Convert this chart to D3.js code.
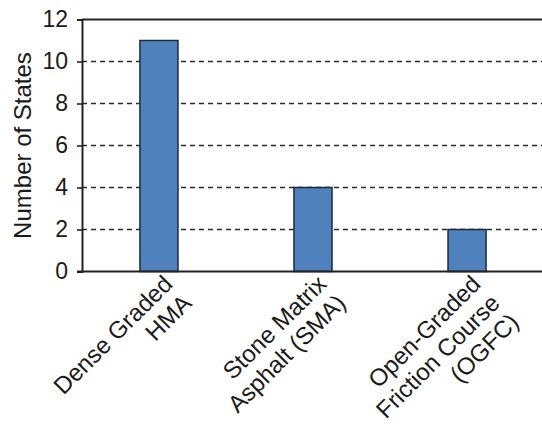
<!DOCTYPE html>
<html>
<head>
<meta charset="utf-8">
<script src="https://cdn.jsdelivr.net/npm/d3@7"></script>
<style>
  html, body { margin: 0; padding: 0; background: #fff; }
  svg { display: block; }
  text { font-family: "Liberation Sans", Arial, sans-serif; fill: #1a1a1a; }
</style>
</head>
<body>
<svg id="chart" width="542" height="426"></svg>
<script>
// Mix types and the number of states using each
const categories = [
  ["Dense Graded", "HMA"],
  ["Stone Matrix", "Asphalt (SMA)"],
  ["Open-Graded", "Friction Course", "(OGFC)"]
];
const states = [11, 4, 2];
const yTicks = [0, 2, 4, 6, 8, 10, 12];
const yLabel = "Number of States";

const svg = d3.select("#chart");
const margin = { left: 82, right: -2, top: 19.5, bottom: 154.5 };
const W = 542, H = 426;

const x = d3.scaleBand()
  .domain(categories.map((d, i) => i))
  .range([margin.left, W - margin.right])
  .paddingInner(0.753)
  .paddingOuter(0.376);

const y = d3.scaleLinear()
  .domain([0, 12])
  .range([H - margin.bottom, margin.top]);

// dashed horizontal gridlines
svg.append("g")
  .selectAll("line")
  .data(yTicks.filter(t => t > 0 && t < 12))
  .join("line")
  .attr("x1", margin.left)
  .attr("x2", W)
  .attr("y1", d => y(d))
  .attr("y2", d => y(d))
  .attr("stroke", "#2a2a2a")
  .attr("stroke-width", 1.6)
  .attr("stroke-dasharray", "5,4");

// top border of the plot area
svg.append("line")
  .attr("x1", margin.left).attr("x2", W)
  .attr("y1", y(12)).attr("y2", y(12))
  .attr("stroke", "#222").attr("stroke-width", 2);

// bars
svg.append("g")
  .selectAll("rect")
  .data(states)
  .join("rect")
  .attr("x", (d, i) => x(i))
  .attr("width", x.bandwidth())
  .attr("y", d => y(d))
  .attr("height", d => y(0) - y(d))
  .attr("fill", "#4f81bd")
  .attr("stroke", "#1c2a40")
  .attr("stroke-width", 1.5);

// y axis
const yAxis = svg.append("g")
  .attr("transform", `translate(${margin.left},0)`)
  .call(d3.axisLeft(y).tickValues(yTicks).tickSize(5).tickPadding(9).tickFormat(d3.format("d")));
yAxis.select(".domain").attr("stroke", "#222").attr("stroke-width", 2);
yAxis.selectAll(".tick line").attr("stroke", "#222").attr("stroke-width", 1.6);
yAxis.selectAll(".tick text")
  .style("font-family", "'Liberation Sans', Arial, sans-serif")
  .style("font-size", "23px")
  .attr("fill", "#1a1a1a");

// x baseline
svg.append("line")
  .attr("x1", margin.left - 5).attr("x2", W)
  .attr("y1", y(0)).attr("y2", y(0))
  .attr("stroke", "#222").attr("stroke-width", 2);

// rotated category labels, right-aligned lines
const labels = svg.append("g")
  .selectAll("g")
  .data(categories)
  .join("g")
  .attr("transform", (d, i) => `translate(${x(i) + x.bandwidth() / 2 + 15},${y(0) + 14}) rotate(-45)`);
labels.append("text")
  .attr("text-anchor", "end")
  .style("font-size", "24px")
  .selectAll("tspan")
  .data(d => d)
  .join("tspan")
  .attr("x", 0)
  .attr("y", (d, j) => j * 27)
  .text(d => d);

// y axis title
svg.append("text")
  .attr("transform", `translate(31,${(y(0) + y(12)) / 2}) rotate(-90)`)
  .attr("text-anchor", "middle")
  .style("font-size", "24px")
  .text(yLabel);
</script>
</body>
</html>
